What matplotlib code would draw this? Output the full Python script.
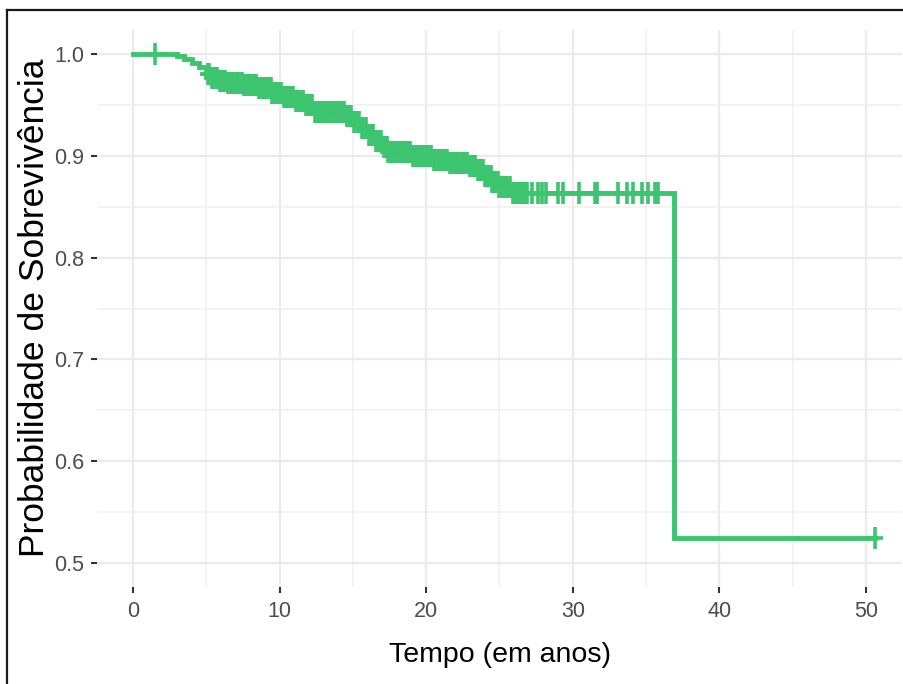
import numpy as np
import matplotlib
matplotlib.use("Agg")
import matplotlib.pyplot as plt
from matplotlib.lines import Line2D

# Kaplan-Meier step function (event times and survival after each step)
event_times = [0.0, 3.0, 3.5, 4.0, 4.5, 5.0, 5.3, 5.8, 6.5, 7.5, 8.5, 9.5, 10.3, 11.0,
               11.7, 12.3, 14.5, 15.0, 15.5, 16.0, 16.5, 17.0, 17.4, 19.0, 20.5, 21.5,
               23.0, 23.5, 24.0, 24.5, 25.0, 25.8, 36.9]
survival = [1.0, 0.998, 0.995, 0.991, 0.987, 0.981, 0.977, 0.974, 0.972, 0.970, 0.967,
            0.962, 0.958, 0.954, 0.950, 0.943, 0.939, 0.933, 0.927, 0.921, 0.915, 0.909,
            0.904, 0.900, 0.896, 0.893, 0.890, 0.886, 0.880, 0.874, 0.869, 0.864, 0.524]

# Censored observation times
censor_times = [1.5,
                5.1, 5.2, 5.4, 5.5, 5.7, 5.9, 6.0, 6.2, 6.3, 6.5, 6.7, 6.8, 7.0, 7.1, 7.2,
                7.4, 7.6, 7.7, 7.9, 8.0, 8.2, 8.3, 8.4, 8.6, 8.8, 8.9, 9.1, 9.2, 9.4,
                9.5, 9.7, 9.9, 10.0, 10.1, 10.3, 10.5, 10.6, 10.8, 10.9, 11.1, 11.3, 11.4,
                11.6, 11.8, 11.9, 12.1, 12.2, 12.4, 12.6, 12.8, 12.9, 13.0, 13.2, 13.4,
                13.6, 13.8, 13.9, 14.1, 14.3, 14.4, 14.6, 14.7, 14.9, 15.1, 15.2, 15.4,
                15.6, 15.7, 15.9, 16.1, 16.3, 16.4, 16.6, 16.7, 16.9, 17.1, 17.3, 17.4,
                17.6, 17.8, 17.9, 18.1, 18.3, 18.4, 18.6, 18.8, 18.9, 19.1, 19.3, 19.4,
                19.6, 19.8, 20.0, 20.1, 20.3, 20.5, 20.6, 20.8, 20.9, 21.1, 21.3, 21.4,
                21.6, 21.8, 22.0, 22.1, 22.3, 22.5, 22.6, 22.8, 23.0, 23.2, 23.3, 23.5,
                23.7, 23.9, 24.0, 24.2, 24.4, 24.5, 24.7, 24.9, 25.0, 25.2, 25.4, 25.5,
                25.7, 25.9, 26.1, 26.3, 26.5, 26.7, 26.9, 27.2, 27.6, 27.9, 28.2,
                29.0, 29.3, 30.4, 31.5, 31.65, 33.1, 33.7, 34.1, 34.7, 35.1, 35.6, 35.8,
                50.6]

end_time = 50.6
x_ticks = [0, 10, 20, 30, 40, 50]
y_ticks = [0.5, 0.6, 0.7, 0.8, 0.9, 1.0]
x_label = "Tempo (em anos)"
y_label = "Probabilidade de Sobreviv\u00eancia"

GREEN = "#3cc46e"

fig = plt.figure(figsize=(9.04, 6.84), dpi=100)
fig.patch.set_facecolor("white")
ax = fig.add_axes([97 / 904, 1 - 587 / 684, 805 / 904, 557 / 684])
ax.set_facecolor("white")

# step curve
xs = list(event_times) + [end_time]
ys = list(survival) + [survival[-1]]
ax.step(xs, ys, where="post", color=GREEN, lw=3.5, solid_joinstyle="miter", zorder=3)

# censor marks at the survival level
et = np.array(event_times)
sv = np.array(survival)
ct = np.array(censor_times)
idx = np.searchsorted(et, ct, side="right") - 1
cy = sv[idx]
ax.plot(ct, cy, ls="none", marker="|", ms=15.5, mew=2.6, color=GREEN, zorder=4)
ax.plot(ct, cy, ls="none", marker="_", ms=11, mew=2.6, color=GREEN, zorder=4)

ax.set_xlim(-2.46, 52.46)
ax.set_ylim(0.4762, 1.0238)

ax.set_xticks(x_ticks)
ax.set_yticks(y_ticks)
ax.set_xticks([5, 15, 25, 35, 45], minor=True)
ax.set_yticks([0.55, 0.65, 0.75, 0.85, 0.95], minor=True)
ax.set_yticklabels([f"{v:.1f}" for v in y_ticks])
ax.set_xticklabels([str(v) for v in x_ticks])

tick_font = ["Liberation Sans", "DejaVu Sans"]
for lab in ax.get_xticklabels() + ax.get_yticklabels():
    lab.set_family(tick_font)
    lab.set_fontsize(15.5)
    lab.set_color("#4d4d4d")

ax.tick_params(axis="both", which="major", length=4.3, width=1.5, color="#333333")
ax.tick_params(axis="x", which="major", pad=5.5)
ax.tick_params(axis="y", which="major", pad=5.0)
ax.tick_params(axis="both", which="minor", length=0)

ax.grid(True, which="major", color="#ebebeb", lw=1.6)
ax.grid(True, which="minor", color="#f0f0f0", lw=1.1)
ax.set_axisbelow(True)
for s in ax.spines.values():
    s.set_visible(False)

ax.set_xlabel(x_label, fontsize=20.5, family=["Liberation Sans", "DejaVu Sans"], color="black")
ax.xaxis.set_label_coords((500 - 97) / 805, (29 - 97) / 557)
ax.xaxis.label.set_va("center")
ax.set_ylabel(y_label, fontsize=25.5, family=["Liberation Sans", "DejaVu Sans"], color="black")
ax.yaxis.set_label_coords((35 - 97) / 805, 0.501)
ax.yaxis.label.set_va("center")
ax.yaxis.label.set_ha("center")

# outer frame (top and left edges)
fig.add_artist(Line2D([7 / 904, 1.0], [1 - 10 / 684, 1 - 10 / 684], color="#1a1a1a", lw=1.6,
                      transform=fig.transFigure))
fig.add_artist(Line2D([7 / 904, 7 / 904], [0.0, 1 - 10 / 684], color="#1a1a1a", lw=1.6,
                      transform=fig.transFigure))

fig.savefig("out.png", dpi=100, facecolor="white")
